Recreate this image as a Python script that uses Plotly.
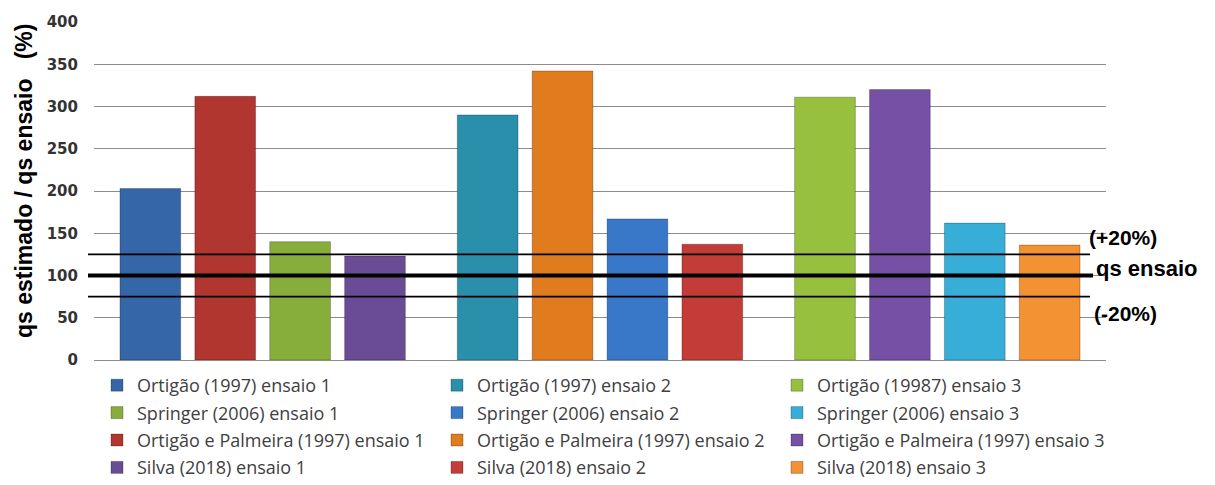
import plotly.graph_objects as go

# ---- data ----
categories = ["ensaio 1", "ensaio 2", "ensaio 3"]
methods = ["Ortigão", "Ortigão e Palmeira", "Springer", "Silva"]  # bar order inside each group

# legend names, per ensaio (legend column order)
names_e1 = ["Ortigão (1997) ensaio 1", "Springer (2006) ensaio 1",
            "Ortigão e Palmeira (1997) ensaio 1", "Silva (2018) ensaio 1"]
names_e2 = ["Ortigão (1997) ensaio 2", "Springer (2006) ensaio 2",
            "Ortigão e Palmeira (1997) ensaio 2", "Silva (2018) ensaio 2"]
names_e3 = ["Ortigão (19987) ensaio 3", "Springer (2006) ensaio 3",
            "Ortigão e Palmeira (1997) ensaio 3", "Silva (2018) ensaio 3"]

# values (%) in legend order: Ortigão, Springer, Ortigão e Palmeira, Silva
values_e1 = [203, 140, 312, 123]
values_e2 = [290, 167, 342, 137]
values_e3 = [311, 162, 320, 136]

# slot of each legend entry inside its group (Ortigão, O&P, Springer, Silva)
slot_order = [0, 2, 1, 3]

colors_e1 = ["#3566a8", "#87ad3b", "#b0362f", "#6a4c96"]
colors_e2 = ["#2a8fab", "#3978c8", "#e07c1e", "#c33c37"]
colors_e3 = ["#97c03e", "#36aed8", "#7650a5", "#f29232"]

y_ticks = [0, 50, 100, 150, 200, 250, 300, 350, 400]
y_title = "qs estimado / qs ensaio   (%)"
ref_values = [125, 100, 75]
ref_labels = ["(+20%)", "qs ensaio", "(-20%)"]

# ---- figure ----
fig = go.Figure()

bar_w = 0.18
slot = 0.222
group_left = -(3 * slot + bar_w) / 2

all_names = [names_e1, names_e2, names_e3]
all_vals = [values_e1, values_e2, values_e3]
all_cols = [colors_e1, colors_e2, colors_e3]
legend_ids = ["legend", "legend2", "legend3"]

for gi, cat in enumerate(categories):
    for k in range(4):
        fig.add_trace(go.Bar(
            x=[cat], y=[all_vals[gi][k]],
            name=all_names[gi][k],
            width=bar_w,
            offset=group_left + slot_order[k] * slot,
            marker=dict(color=all_cols[gi][k],
                        line=dict(color="rgba(0,0,0,0.25)", width=1)),
            legend=legend_ids[gi],
            legendgroup=f"g{gi}_{k}",
        ))

W, H = 1215, 485
ml, mr, mt, mb = 94, 109, 22, 125
pw = W - ml - mr
ph = H - mt - mb


def px_x(px):
    return (px - ml) / pw


def px_y(py):
    return 1 - (py - mt) / ph


legend_font = dict(family="Open Sans", size=18, color="#404040")
common_leg = dict(orientation="v", traceorder="grouped", tracegroupgap=1,
                  font=legend_font, bgcolor="rgba(0,0,0,0)",
                  xanchor="left", yanchor="top", y=px_y(367))

fig.update_layout(
    width=W, height=H,
    margin=dict(l=ml, r=mr, t=mt, b=mb, autoexpand=False),
    plot_bgcolor="white", paper_bgcolor="white",
    barmode="overlay",
    showlegend=True,
    legend=dict(x=px_x(97), **common_leg),
    legend2=dict(x=px_x(437), **common_leg),
    legend3=dict(x=px_x(777), **common_leg),
    xaxis=dict(showticklabels=False, showgrid=False, zeroline=False,
               showline=False, ticks=""),
    yaxis=dict(range=[0, 400], tickvals=y_ticks,
               showgrid=True, gridcolor="#8c8c8c", gridwidth=1.2,
               zeroline=True, zerolinecolor="#8c8c8c", zerolinewidth=1.2,
               showline=False, ticks="", ticklabelstandoff=15,
               tickfont=dict(family="DejaVu Sans", size=15, color="#333333",
                             weight="bold")),
)

# y-axis title
fig.add_annotation(text=y_title, xref="paper", yref="paper",
                   x=px_x(24), y=px_y(181), xanchor="center", yanchor="middle",
                   textangle=-90, showarrow=False,
                   font=dict(family="Liberation Sans", size=23, color="black",
                             weight="bold"))

# reference lines
line_widths = [1.6, 4, 1.6]
line_ends = [px_x(1090), px_x(1093), px_x(1090)]
for v, lw, xe in zip(ref_values, line_widths, line_ends):
    fig.add_shape(type="line", xref="paper", yref="y",
                  x0=px_x(88), x1=xe, y0=v, y1=v,
                  line=dict(color="black", width=lw))

label_y = [237, 268, 313]
label_x = [1087, 1094, 1092]
label_sizes = [21, 22, 21]
for txt, ly, lx, fs in zip(ref_labels, label_y, label_x, label_sizes):
    fig.add_annotation(text=txt, xref="paper", yref="paper",
                       x=px_x(lx), y=px_y(ly), xanchor="left", yanchor="middle",
                       showarrow=False,
                       font=dict(family="Liberation Sans", size=fs, color="black",
                                 weight="bold"))

fig.write_html("out.html")
